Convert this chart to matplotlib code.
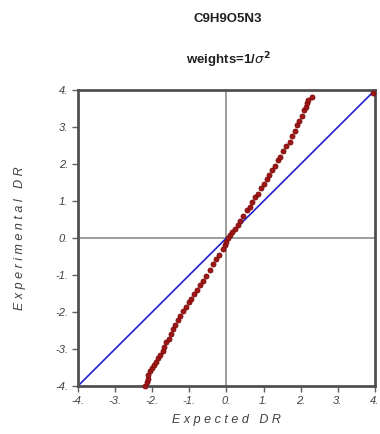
import matplotlib
matplotlib.use("Agg")
import matplotlib.pyplot as plt

title1 = "C9H9O5N3"
title2 = r"weights=1/$\sigma^{\mathbf{2}}$"
xlabel = "E x p e c t e d   D R"
ylabel = "E x p e r i m e n t a l   D R"
ticks = [-4, -3, -2, -1, 0, 1, 2, 3, 4]
tick_labels = ["-4.", "-3.", "-2.", "-1.", "0.", "1.", "2.", "3.", "4."]

expected = [-2.19, -2.15, -2.12, -2.1, -2.06, -2.0, -1.95, -1.9, -1.84, -1.78, -1.72,
            -1.68, -1.62, -1.55, -1.5, -1.45, -1.38, -1.3, -1.25, -1.18, -1.1, -1.02,
            -0.96, -0.88, -0.8, -0.7, -0.62, -0.55, -0.45, -0.35, -0.27, -0.2, -0.1,
            -0.05, 0.0, 0.05, 0.1, 0.15, 0.22, 0.3, 0.37, 0.45, 0.55, 0.62, 0.7, 0.78,
            0.85, 0.92, 1.0, 1.08, 1.15, 1.22, 1.3, 1.38, 1.45, 1.52, 1.6, 1.7, 1.76,
            1.84, 1.9, 1.96, 2.03, 2.09, 2.13, 2.17, 2.2, 2.3, 3.95]
experimental = [-4.0, -3.9, -3.8, -3.7, -3.6, -3.52, -3.43, -3.35, -3.25, -3.15, -3.05,
                -2.95, -2.82, -2.72, -2.6, -2.47, -2.36, -2.22, -2.1, -1.97, -1.86, -1.72,
                -1.64, -1.52, -1.4, -1.26, -1.15, -1.02, -0.86, -0.71, -0.57, -0.46, -0.3,
                -0.2, -0.1, 0.0, 0.08, 0.15, 0.25, 0.35, 0.47, 0.6, 0.75, 0.85, 0.96, 1.1,
                1.2, 1.35, 1.45, 1.6, 1.7, 1.85, 1.95, 2.1, 2.2, 2.35, 2.5, 2.6, 2.75,
                2.9, 3.05, 3.15, 3.3, 3.45, 3.55, 3.65, 3.72, 3.8, 3.92]
diag = [-4, 4]

fig = plt.figure(figsize=(3.8, 4.34), dpi=100)
ax = fig.add_axes([0.205, 0.1106, 0.782, 0.682])
ax.set_xlim(-4, 4)
ax.set_ylim(-4, 4)

ax.axhline(0, color="#8c8c8c", lw=1.2, zorder=1)
ax.axvline(0, color="#8c8c8c", lw=1.2, zorder=1)
ax.plot(diag, diag, color="#2020d0", lw=1.2, zorder=2)
ax.plot(expected, experimental, "o", ms=3.6, color="#a01515", mec="#7a0a0a",
        mew=0.6, zorder=3, clip_on=False)

for s in ax.spines.values():
    s.set_color("#505050")
    s.set_linewidth(2)

ax.set_xticks(ticks)
ax.set_xticklabels(tick_labels)
ax.set_yticks(ticks)
ax.set_yticklabels(tick_labels)
ax.tick_params(direction="out", length=4, width=1, color="#606060",
               labelsize=8, labelcolor="#404040", pad=3)
for lab in ax.get_xticklabels() + ax.get_yticklabels():
    lab.set_fontstyle("italic")
    lab.set_family("Liberation Sans")

ax.set_xlabel(xlabel, fontsize=9, style="italic", color="#404040",
              family="Liberation Sans", labelpad=6)
ax.set_ylabel(ylabel, fontsize=9, style="italic", color="#404040",
              family="Liberation Sans", labelpad=21)

fig.text(0.6, 0.956, title1, ha="center", va="center", fontsize=9.5,
         fontweight="bold", family="Liberation Sans", color="#202020")
fig.text(0.6, 0.862, title2, ha="center", va="center", fontsize=9.5,
         fontweight="bold", family="Liberation Sans", color="#202020")

fig.savefig("out.png", dpi=100)
